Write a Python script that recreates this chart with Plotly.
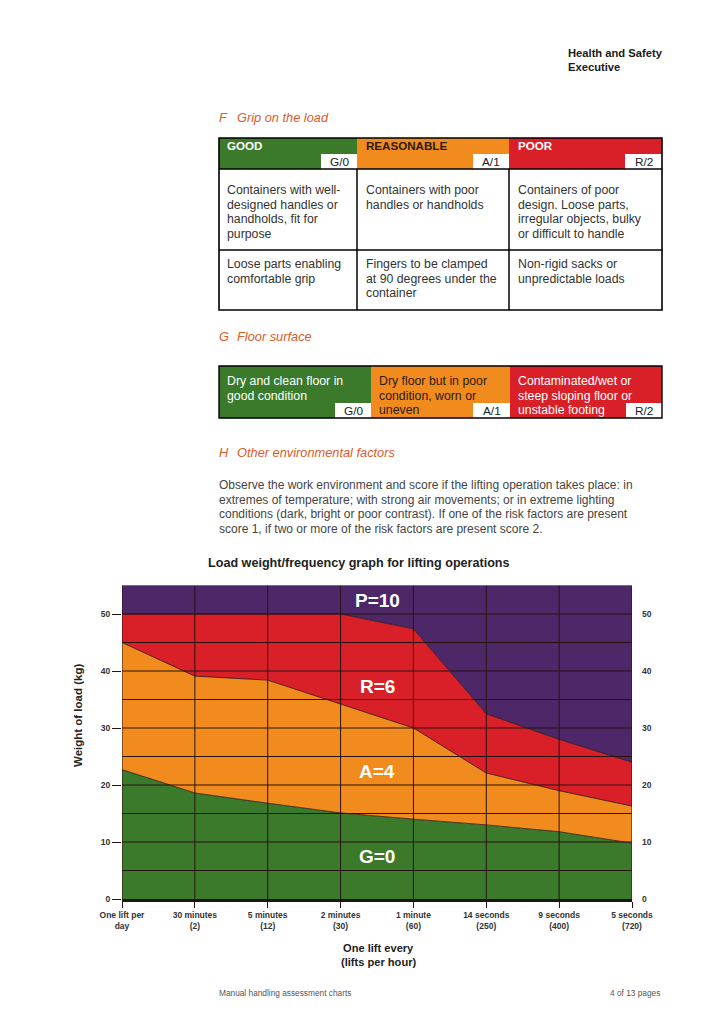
import plotly.graph_objects as go

W, H = 728, 1030
FONT = "Liberation Sans, Arial, sans-serif"

# ---------------- data ----------------
categories = ["One lift per<br>day", "30 minutes<br>(2)", "5 minutes<br>(12)", "2 minutes<br>(30)",
              "1 minute<br>(60)", "14 seconds<br>(250)", "9 seconds<br>(400)", "5 seconds<br>(720)"]
g_upper = [22.7, 18.6, 16.8, 15.1, 14.0, 13.0, 11.8, 9.8]
a_upper = [45.0, 39.1, 38.4, 34.2, 30.0, 22.1, 19.0, 16.3]
r_upper = [50.0, 50.0, 50.0, 50.0, 47.4, 32.5, 28.0, 24.0]
p_upper = [55, 55, 55, 55, 55, 55, 55, 55]
y_ticks = [0, 10, 20, 30, 40, 50]
grid_y = [5, 10, 15, 20, 25, 30, 35, 40, 45, 50, 55]
zone_labels = ["G=0", "A=4", "R=6", "P=10"]
zone_label_y = [7.4, 22.3, 37.2, 52.3]
zone_label_x = 3.5

GREEN, ORANGE, RED, PURPLE = "#3b7a2a", "#f28b1d", "#d91f27", "#4e2768"
EDGE = "#2a1212"

def px(x): return x / W
def py(y): return 1 - y / H

annotations = []
shapes = []

def txt(x, y, s, size=11, color="#333333", bold=False, italic=False, xanchor="left"):
    annotations.append(dict(x=px(x), y=py(y), xref="paper", yref="paper", text=s,
                            showarrow=False, xanchor=xanchor, yanchor="middle",
                            font=dict(size=size, color=color, family=FONT,
                                      weight="bold" if bold else "normal",
                                      style="italic" if italic else "normal")))

def rect(x0, y0, x1, y1, fill="rgba(0,0,0,0)", lw=0, lc="black"):
    shapes.append(dict(type="rect", xref="paper", yref="paper", x0=px(x0), x1=px(x1),
                       y0=py(y1), y1=py(y0), fillcolor=fill,
                       line=dict(width=lw, color=lc), layer="above"))

def hline(x0, x1, y, lw=1.5, lc="black"):
    shapes.append(dict(type="line", xref="paper", yref="paper", x0=px(x0), x1=px(x1),
                       y0=py(y), y1=py(y), line=dict(width=lw, color=lc), layer="above"))

def vline(x, y0, y1, lw=1.5, lc="black"):
    shapes.append(dict(type="line", xref="paper", yref="paper", x0=px(x), x1=px(x),
                       y0=py(y0), y1=py(y1), line=dict(width=lw, color=lc), layer="above"))

HEAD_C = "#dc5a28"
BODY_C = "#333333"
BODY_S = 12.3
HEAD_S = 12.8

# header
txt(566, 53, "Health and Safety", size=11.2, color="#1a1a1a", bold=True)
txt(566, 67, "Executive", size=11.2, color="#1a1a1a", bold=True)

# ---------------- F table ----------------
txt(217, 117, "F", size=HEAD_S, color=HEAD_C, italic=True)
txt(235, 117, "Grip on the load", size=HEAD_S, color=HEAD_C, italic=True)
L, C1, C2, R = 219, 357, 509, 662
rect(L, 138, C1, 169, GREEN)
rect(C1, 138, C2, 169, ORANGE)
rect(C2, 138, R, 169, RED)
for bx0, bx1, lab in [(321, C1, "G/0"), (473, C2, "A/1"), (625, R, "R/2")]:
    rect(bx0, 154, bx1, 169, "white")
    txt((bx0 + bx1) / 2, 162, lab, size=11.8, color="#222222", xanchor="center")
txt(225, 146, "GOOD", size=11.6, color="white", bold=True)
txt(364, 146, "REASONABLE", size=11.6, color="#2b1a10", bold=True)
txt(516, 146, "POOR", size=11.6, color="white", bold=True)
rect(L, 138, R, 310, lw=1.6)
hline(L, R, 169)
hline(L, R, 250)
vline(C1, 169, 310)
vline(C2, 169, 310)
row1 = [["Containers with well-", "designed handles or", "handholds, fit for", "purpose"],
        ["Containers with poor", "handles or handholds"],
        ["Containers of poor", "design. Loose parts,", "irregular objects, bulky", "or difficult to handle"]]
row2 = [["Loose parts enabling", "comfortable grip"],
        ["Fingers to be clamped", "at 90 degrees under the", "container"],
        ["Non-rigid sacks or", "unpredictable loads"]]
colx = [225, 364, 516]
for cx, lines in zip(colx, row1):
    for i, s in enumerate(lines):
        txt(cx, 190 + i * 14.7, s, size=BODY_S, color=BODY_C)
for cx, lines in zip(colx, row2):
    for i, s in enumerate(lines):
        txt(cx, 264 + i * 14.7, s, size=BODY_S, color=BODY_C)

# ---------------- G table ----------------
txt(217, 337, "G", size=HEAD_S, color=HEAD_C, italic=True)
txt(235, 337, "Floor surface", size=HEAD_S, color=HEAD_C, italic=True)
G1, G2 = 371, 510
rect(L, 366, G1, 418, GREEN)
rect(G1, 366, G2, 418, ORANGE)
rect(G2, 366, R, 418, RED)
for bx0, bx1, lab in [(335, G1, "G/0"), (473, G2, "A/1"), (626, R, "R/2")]:
    rect(bx0, 403, bx1, 418, "white")
    txt((bx0 + bx1) / 2, 410.5, lab, size=11.8, color="#222222", xanchor="center")
rect(L, 366, R, 418, lw=1.4)
gcols = [(225, "white", ["Dry and clean floor in", "good condition"]),
         (377, "#2b1a10", ["Dry floor but in poor", "condition, worn or", "uneven"]),
         (516, "white", ["Contaminated/wet or", "steep sloping floor or", "unstable footing"])]
for cx, col, lines in gcols:
    for i, s in enumerate(lines):
        txt(cx, 381 + i * 14.6, s, size=BODY_S, color=col)

# ---------------- H ----------------
txt(217, 453, "H", size=HEAD_S, color=HEAD_C, italic=True)
txt(235, 453, "Other environmental factors", size=HEAD_S, color=HEAD_C, italic=True)
para = ["Observe the work environment and score if the lifting operation takes place: in",
        "extremes of temperature; with strong air movements; or in extreme lighting",
        "conditions (dark, bright or poor contrast). If one of the risk factors are present",
        "score 1, if two or more of the risk factors are present score 2."]
for i, s in enumerate(para):
    txt(217, 485 + i * 14.7, s, size=12.0, color="#444444")

# ---------------- chart texts ----------------
txt(206, 563, "Load weight/frequency graph for lifting operations", size=12.6, color="#222222", bold=True)
annotations.append(dict(x=px(78), y=py(716), xref="paper", yref="paper", text="Weight of load (kg)",
                        showarrow=False, textangle=-90, xanchor="center", yanchor="middle",
                        font=dict(size=11.5, color="#222222", family=FONT, weight="bold")))
txt(378, 948, "One lift every", size=11.1, color="#222222", bold=True, xanchor="center")
txt(378, 962, "(lifts per hour)", size=11.1, color="#222222", bold=True, xanchor="center")
txt(217, 993, "Manual handling assessment charts", size=8.3, color="#555555")
txt(662, 993, "4 of 13 pages", size=8.3, color="#555555", xanchor="right")

for lab, ly in zip(zone_labels, zone_label_y):
    annotations.append(dict(x=zone_label_x, y=ly, xref="x", yref="y", text=lab, showarrow=False,
                            xanchor="center", yanchor="middle",
                            font=dict(size=19, color="white", family=FONT, weight="bold")))

# grid lines above the fills
for i in range(len(categories)):
    shapes.append(dict(type="line", xref="x", yref="y", x0=i, x1=i, y0=0, y1=grid_y[-1],
                       line=dict(width=1, color=EDGE), layer="above"))
for gy in grid_y:
    shapes.append(dict(type="line", xref="x", yref="y", x0=0, x1=len(categories) - 1, y0=gy, y1=gy,
                       line=dict(width=1, color=EDGE), layer="above"))

# ---------------- traces ----------------
fig = go.Figure()
fig.add_trace(go.Scatter(x=categories, y=g_upper, mode="lines", fill="tozeroy", fillcolor=GREEN,
                         line=dict(color=EDGE, width=0.8), hoverinfo="skip", showlegend=False))
fig.add_trace(go.Scatter(x=categories, y=a_upper, mode="lines", fill="tonexty", fillcolor=ORANGE,
                         line=dict(color=EDGE, width=0.8), hoverinfo="skip", showlegend=False))
fig.add_trace(go.Scatter(x=categories, y=r_upper, mode="lines", fill="tonexty", fillcolor=RED,
                         line=dict(color=EDGE, width=0.8), hoverinfo="skip", showlegend=False))
fig.add_trace(go.Scatter(x=categories, y=p_upper, mode="lines", fill="tonexty", fillcolor=PURPLE,
                         line=dict(color=EDGE, width=0), hoverinfo="skip", showlegend=False))
fig.add_trace(go.Scatter(x=categories, y=p_upper, mode="lines", yaxis="y2", opacity=0,
                         line=dict(width=0), hoverinfo="skip", showlegend=False))

tickfont = dict(size=8.5, color="#333333", family=FONT, weight="bold")
fig.update_layout(
    width=W, height=H,
    margin=dict(l=0, r=0, t=0, b=0, pad=0, autoexpand=False),
    paper_bgcolor="white", plot_bgcolor="white",
    showlegend=False,
    xaxis=dict(domain=[px(122), px(632)], type="category", range=[0, len(categories) - 1],
               automargin=False,
               showgrid=False, zeroline=False, ticks="outside", ticklen=6, tickcolor=EDGE,
               tickwidth=1, tickfont=tickfont, showline=True, linewidth=3, linecolor="#1e1410",
               fixedrange=True),
    yaxis=dict(domain=[py(899), py(585.5)], range=[0, 55], tickvals=y_ticks, showgrid=False,
               automargin=False,
               zeroline=False, ticks="outside", ticklen=9, tickcolor=EDGE, tickwidth=1,
               tickfont=tickfont, showline=False, fixedrange=True),
    yaxis2=dict(overlaying="y", side="right", range=[0, 55], tickvals=y_ticks, showgrid=False,
                automargin=False,
                zeroline=False, ticks="", tickfont=tickfont, showline=False, fixedrange=True,
                ticklabelstandoff=9),
    annotations=annotations,
    shapes=shapes,
)

fig.write_html("out.html", post_script="document.body.style.margin='0';",
               config={"displayModeBar": False})
